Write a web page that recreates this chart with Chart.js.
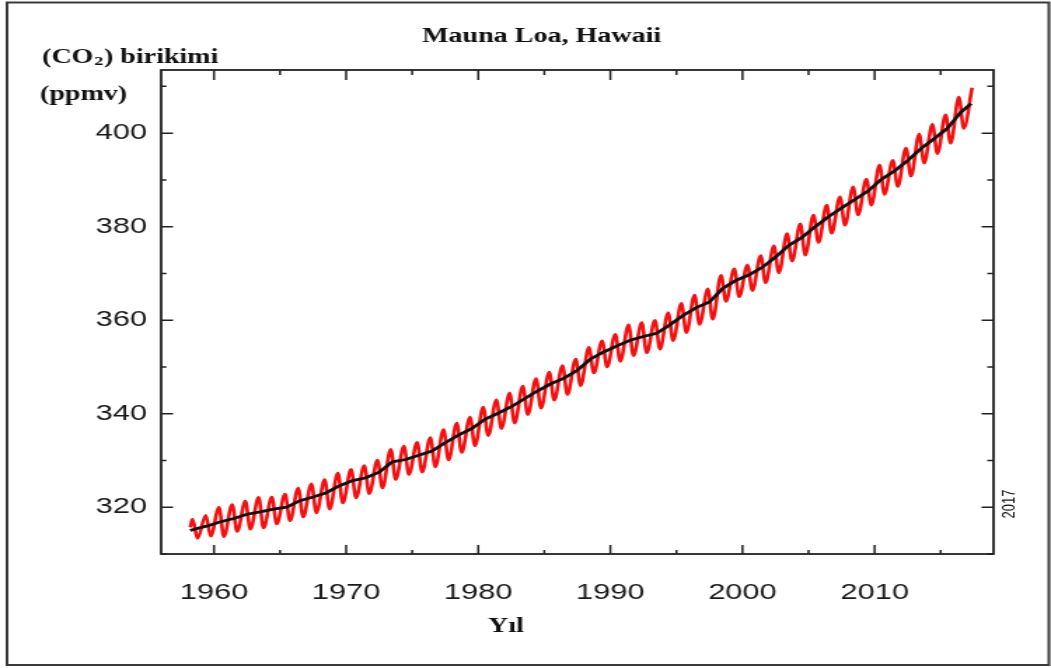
<!DOCTYPE html>
<html>
<head>
<meta charset="utf-8">
<title>Mauna Loa, Hawaii</title>
<script src="https://cdn.jsdelivr.net/npm/chart.js@4.4.1/dist/chart.umd.min.js"></script>
<style>
  html, body { margin: 0; padding: 0; background: #fff; overflow: hidden; }
  /* the figure is laid out at 750 px wide and shown widened to 1051 px */
  #wrap { width: 750px; height: 668px; transform: scaleX(1.4013); transform-origin: 0 0; }
  canvas { display: block; }
</style>
</head>
<body>
<div id="wrap"><canvas id="co2" width="750" height="668"></canvas></div>
<script>
// Calendar years covered by the monthly record
const years = [
  1958, 1959, 1960, 1961, 1962, 1963, 1964, 1965, 1966, 1967,
  1968, 1969, 1970, 1971, 1972, 1973, 1974, 1975, 1976, 1977,
  1978, 1979, 1980, 1981, 1982, 1983, 1984, 1985, 1986, 1987,
  1988, 1989, 1990, 1991, 1992, 1993, 1994, 1995, 1996, 1997,
  1998, 1999, 2000, 2001, 2002, 2003, 2004, 2005, 2006, 2007,
  2008, 2009, 2010, 2011, 2012, 2013, 2014, 2015, 2016, 2017
];

// Seasonal maximum (May) of the monthly CO2 record, ppmv
const mayPeakPpm = [
  317.5, 318.3, 320.0, 320.6, 321.3, 322.1, 322.2, 322.8, 324.1, 325.0,
  325.9, 327.3, 328.1, 328.9, 330.1, 332.4, 333.1, 333.9, 334.9, 336.6,
  338.0, 339.3, 341.4, 343.0, 344.4, 345.9, 347.5, 348.9, 350.3, 351.7,
  354.2, 355.6, 357.0, 359.0, 359.5, 360.0, 361.6, 363.6, 365.4, 366.7,
  369.6, 371.0, 371.8, 373.8, 375.9, 378.5, 380.6, 382.5, 384.6, 386.4,
  388.5, 390.2, 393.2, 394.2, 396.8, 399.8, 401.9, 403.9, 407.7, 409.7
];

// Seasonal minimum (autumn) of the monthly CO2 record, ppmv (1958-2016)
const autumnLowPpm = [
  313.3, 313.8, 313.7, 314.8, 315.3, 315.5, 316.4, 317.1, 317.9, 318.8,
  319.6, 320.9, 322.0, 322.9, 324.1, 325.9, 327.0, 327.5, 328.6, 330.1,
  331.7, 333.1, 335.3, 336.8, 338.0, 339.8, 341.2, 342.9, 344.1, 346.0,
  348.7, 350.0, 351.2, 352.4, 353.0, 353.8, 355.6, 357.3, 359.1, 360.2,
  364.0, 365.0, 366.3, 368.0, 370.1, 372.6, 373.9, 376.6, 378.6, 380.3,
  382.5, 384.6, 386.9, 388.6, 390.8, 393.6, 395.6, 397.8, 401.0
];

// First monthly value of the record (March 1958)
const recordStartYear = 1958.2;
const recordStartPpm = 315.7;

// Position of the seasonal extremes within a year (mid-May, early October)
const peakOffset = 0.375;
const lowOffset = 0.75;

// Seasonally adjusted trend (black curve): time in decimal years and ppmv
const trendYear = [
  1958.2, 1958.5, 1959.5, 1960.5, 1961.5, 1962.5, 1963.5, 1964.5, 1965.5, 1966.5,
  1967.5, 1968.5, 1969.5, 1970.5, 1971.5, 1972.5, 1973.5, 1974.5, 1975.5, 1976.5,
  1977.5, 1978.5, 1979.5, 1980.5, 1981.5, 1982.5, 1983.5, 1984.5, 1985.5, 1986.5,
  1987.5, 1988.5, 1989.5, 1990.5, 1991.5, 1992.5, 1993.5, 1994.5, 1995.5, 1996.5,
  1997.5, 1998.5, 1999.5, 2000.5, 2001.5, 2002.5, 2003.5, 2004.5, 2005.5, 2006.5,
  2007.5, 2008.5, 2009.5, 2010.5, 2011.5, 2012.5, 2013.5, 2014.5, 2015.5, 2016.5,
  2017.3
];
const trendPpm = [
  315.0, 315.3, 316.0, 316.9, 317.6, 318.5, 319.0, 319.6, 320.0, 321.4,
  322.2, 323.1, 324.6, 325.7, 326.3, 327.5, 329.7, 330.2, 331.1, 332.0,
  333.8, 335.4, 336.8, 338.8, 340.1, 341.5, 343.2, 344.9, 346.4, 347.6,
  349.3, 351.7, 353.2, 354.5, 355.7, 356.5, 357.2, 359.0, 361.0, 362.7,
  363.9, 366.8, 368.5, 369.7, 371.3, 373.5, 376.0, 377.7, 380.0, 382.1,
  384.0, 385.8, 387.6, 390.1, 391.9, 394.1, 396.7, 398.8, 401.0, 404.4,
  406.3
];

// Axis ranges and labels
const xMin = 1956, xMax = 2019, xStep = 5, xLabelEvery = 10;
const yMin = 310, yMax = 413.5, yStep = 10, yLabelEvery = 20;
const yLabelFirst = 320, yLabelLast = 400;

const titleText = 'Mauna Loa, Hawaii';
const yTitleMain = '(CO';
const yTitleSub = '2';
const yTitleRest = ') birikimi';
const yUnitText = '(ppmv)';
const xTitleText = 'Yıl';
const editionText = '2017';

// Monthly curve as alternating seasonal extremes
const monthlyPoints = [{ x: recordStartYear, y: recordStartPpm }];
years.forEach((yr, i) => {
  monthlyPoints.push({ x: yr + peakOffset, y: mayPeakPpm[i] });
  if (i < autumnLowPpm.length) monthlyPoints.push({ x: yr + lowOffset, y: autumnLowPpm[i] });
});
const trendPoints = trendYear.map((x, i) => ({ x, y: trendPpm[i] }));

const isMultiple = (v, n) => Math.abs(v / n - Math.round(v / n)) < 1e-6;

// Evenly stepped ticks inside [min, max]
function steppedTicks(min, max, step) {
  const out = [];
  for (let v = Math.ceil(min / step) * step; v <= max + 1e-9; v += step) out.push({ value: v });
  return out;
}

const SANS = '"Liberation Sans", Arial, Helvetica, sans-serif';
const SERIF = '"Liberation Serif", "Times New Roman", Times, serif';

// Background, plot box with inward ticks on all four sides, outer frame and texts
const decorations = {
  id: 'decorations',
  beforeDraw(chart) {
    const ctx = chart.ctx;
    ctx.save();
    ctx.fillStyle = '#ffffff';
    ctx.fillRect(0, 0, chart.width, chart.height);
    ctx.restore();
  },
  afterDraw(chart) {
    const ctx = chart.ctx;
    const { left, right, top, bottom } = chart.chartArea;
    const xs = chart.scales.x, ys = chart.scales.y;
    ctx.save();
    ctx.strokeStyle = '#222';
    ctx.lineWidth = 1.8;
    ctx.strokeRect(left, top, right - left, bottom - top);

    ctx.lineWidth = 1.5;
    ctx.beginPath();
    xs.ticks.forEach(t => {
      if (!isMultiple(t.value, xStep)) return;
      const px = xs.getPixelForValue(t.value);
      const major = isMultiple(t.value, xLabelEvery);
      ctx.moveTo(px, bottom); ctx.lineTo(px, bottom - (major ? 9 : 4));
      ctx.moveTo(px, top); ctx.lineTo(px, top + (major ? 10 : 5));
    });
    ys.ticks.forEach(t => {
      if (!isMultiple(t.value, yStep)) return;
      const py = ys.getPixelForValue(t.value);
      const major = isMultiple(t.value, yLabelEvery);
      ctx.moveTo(left, py); ctx.lineTo(left + (major ? 8.5 : 3.8), py);
      ctx.moveTo(right, py); ctx.lineTo(right - (major ? 8.5 : 4.5), py);
    });
    ctx.stroke();

    // outer frame
    ctx.strokeStyle = '#3a3a3a';
    ctx.lineWidth = 2;
    ctx.strokeRect(5, 2.5, 743.5, 662.5);

    // texts
    ctx.fillStyle = '#111';
    ctx.font = 'bold 20px ' + SERIF;
    ctx.textAlign = 'center';
    ctx.textBaseline = 'alphabetic';
    ctx.fillText(titleText, 386.5, 42);
    ctx.fillText(xTitleText, 361, 632);

    ctx.textAlign = 'left';
    let x = 30;
    ctx.fillText(yTitleMain, x, 63);
    x += ctx.measureText(yTitleMain).width;
    ctx.font = 'bold 13px ' + SERIF;
    ctx.fillText(yTitleSub, x + 0.5, 65);
    x += ctx.measureText(yTitleSub).width + 1;
    ctx.font = 'bold 20px ' + SERIF;
    ctx.fillText(yTitleRest, x, 63);
    ctx.fillText(yUnitText, 28.5, 100);

    ctx.translate(720, 504);
    ctx.rotate(-Math.PI / 2);
    ctx.font = '13px ' + SANS;
    ctx.textAlign = 'center';
    ctx.textBaseline = 'middle';
    ctx.fillText(editionText, 0, 0);
    ctx.restore();
  }
};

new Chart(document.getElementById('co2').getContext('2d'), {
  type: 'line',
  data: {
    datasets: [
      {
        label: 'trend',
        data: trendPoints,
        borderColor: '#111111',
        borderWidth: 2.8,
        pointRadius: 0,
        tension: 0,
        order: 0
      },
      {
        label: 'monthly',
        data: monthlyPoints,
        borderColor: '#f21010',
        borderWidth: 2.6,
        pointRadius: 0,
        cubicInterpolationMode: 'monotone',
        order: 1
      }
    ]
  },
  options: {
    responsive: false,
    animation: false,
    devicePixelRatio: 1,
    layout: { padding: { top: 70, right: 41, left: 0, bottom: 0 } },
    plugins: { legend: { display: false }, tooltip: { enabled: false }, title: { display: false } },
    scales: {
      x: {
        type: 'linear',
        min: xMin,
        max: xMax,
        afterBuildTicks(scale) { scale.ticks = steppedTicks(xMin, xMax, xStep); },
        afterFit(scale) { scale.height = 114; },
        grid: { display: false, drawTicks: false },
        border: { display: false },
        ticks: {
          autoSkip: false,
          maxRotation: 0,
          padding: 26,
          color: '#1a1a1a',
          font: { family: SANS, size: 22 },
          callback: v => (isMultiple(v, xLabelEvery) ? String(v) : '')
        }
      },
      y: {
        type: 'linear',
        min: yMin,
        max: yMax,
        afterBuildTicks(scale) { scale.ticks = steppedTicks(yMin, yMax, yStep); },
        afterFit(scale) { scale.width = 115; },
        grid: { display: false, drawTicks: false },
        border: { display: false },
        ticks: {
          autoSkip: false,
          padding: 10,
          color: '#1a1a1a',
          font: { family: SANS, size: 22 },
          callback: v => (isMultiple(v, yLabelEvery) && v >= yLabelFirst && v <= yLabelLast ? String(v) : '')
        }
      }
    }
  },
  plugins: [decorations]
});
</script>
</body>
</html>
